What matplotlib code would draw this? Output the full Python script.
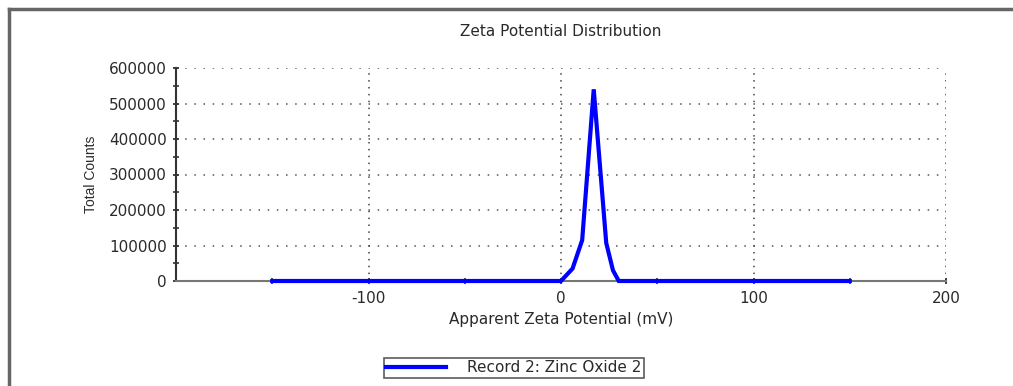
import numpy as np
import matplotlib.pyplot as plt
from matplotlib.lines import Line2D

# zeta potential (mV) vs total counts
zeta = [-150, -100, -50, 0, 6, 11, 17, 23.5, 27, 30, 50, 100, 150]
counts = [0, 0, 0, 0, 35000, 115000, 540000, 107000, 30000, 0, 0, 0, 0]

major_x = [-100, 0, 100, 200]
major_y = [0, 100000, 200000, 300000, 400000, 500000, 600000]

plt.rcParams['font.family'] = ['DejaVu Sans']
plt.rcParams['axes.unicode_minus'] = False
txt = '#2a2a2a'

fig = plt.figure(figsize=(10.13, 3.86), dpi=100)
ax = fig.add_axes([176/1013, 1 - 281/386, (946-176)/1013, (281-68)/386])

ax.plot(zeta, counts, color='#0000ff', lw=3.0, solid_joinstyle='miter', zorder=3,
        label='Record 2: Zinc Oxide 2', clip_on=False)

ax.set_xlim(-200, 200)
ax.set_ylim(0, 600000)
ax.set_xticks(major_x)
ax.set_xticks([-150, -50, 50, 150], minor=True)
ax.set_yticks(major_y)
ax.set_yticks(np.arange(50000, 600000, 100000), minor=True)
ax.yaxis.set_major_formatter(plt.FuncFormatter(lambda v, p: f'{int(v)}'))

for s in ['top', 'right']:
    ax.spines[s].set_visible(False)
ax.spines['left'].set_color('#333333')
ax.spines['left'].set_linewidth(1.5)
ax.spines['bottom'].set_color('#777777')
ax.spines['bottom'].set_linewidth(1.5)

ax.tick_params(axis='both', which='major', labelsize=11, color='#222222',
               length=5, width=1.2, direction='inout', labelcolor=txt)
ax.tick_params(axis='both', which='minor', length=4, width=1.2, color='#333333',
               direction='inout')
ax.tick_params(axis='x', pad=5)
ax.tick_params(axis='y', pad=4)

for v in major_y[1:]:
    ax.axhline(v, color='#555555', lw=1.1, ls=(0, (1, 5)), zorder=1)
for v in major_x:
    ax.axvline(v, color='#444444', lw=1.1, ls=(0, (1, 3.5)), zorder=1)

ax.set_title('Zeta Potential Distribution', fontsize=11, color=txt, pad=23)
ax.set_xlabel('Apparent Zeta Potential (mV)', fontsize=11, color=txt, labelpad=4)
ax.set_ylabel('Total Counts', fontsize=10, color=txt, labelpad=8,
              family='Liberation Sans')

leg = fig.legend(loc='center', bbox_to_anchor=(514/1013, 1 - 368/386), fontsize=11,
                 frameon=True, fancybox=False, handlelength=3.9, handletextpad=1.4,
                 borderpad=0.15, borderaxespad=0, labelcolor=txt)
leg.get_frame().set_edgecolor('#333333')
leg.get_frame().set_linewidth(1.2)

# outer frame (left and top edges visible)
fig.add_artist(Line2D([9/1013, 9/1013], [0, 1 - 9/386], color='#666666', lw=2.5))
fig.add_artist(Line2D([9/1013, 1], [1 - 9/386, 1 - 9/386], color='#666666', lw=2.5))

fig.savefig('out.png', dpi=100)
